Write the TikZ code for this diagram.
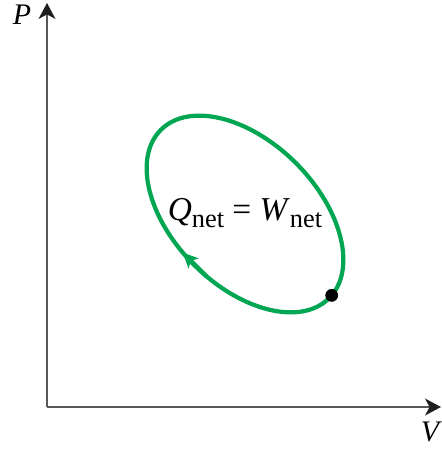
\documentclass[tikz,border=0pt]{standalone}
\usepackage{fontspec}
\setmainfont{Liberation Serif}
\usepackage{xcolor}
\definecolor{cyclegreen}{RGB}{0, 166, 81}
\definecolor{axisgray}{RGB}{88, 88, 88}
\definecolor{tipblack}{RGB}{30, 30, 30}
\usepackage{tikz}
\usetikzlibrary{arrows.meta}
\newcommand{\subnet}{{\fontsize{15}{15}\selectfont\raisebox{-0.28em}{net}}}

\begin{document}
\begin{tikzpicture}[x=0.02cm, y=-0.02cm, >=Stealth]
    \useasboundingbox (0,0) rectangle (441,450);
    \coordinate (O) at (47,407);
    \coordinate (Ptop) at (47,3);
    \coordinate (Vend) at (441,407);
    \draw[line width=1.5pt, axisgray, -{Stealth[length=9pt, width=9.5pt, inset=2.5pt, color=tipblack]}] (O) -- (Ptop);
    \draw[line width=1.5pt, axisgray, -{Stealth[length=9pt, width=9.5pt, inset=2.5pt, color=tipblack]}] (O) -- (Vend);
    \node[font=\fontsize{17}{17}\selectfont\itshape] (Plabel) at (22,15) {P};
    \node[font=\fontsize{17}{17}\selectfont\itshape] (Vlabel) at (430,432) {V};
    \begin{scope}[shift={(245,214)}, rotate=-45]
        \draw[line width=2.4pt, cyclegreen] (0,0) ellipse [x radius=119, y radius=72];
        \coordinate (arrowtail) at ({119*cos(82)}, {72*sin(82)});
        \coordinate (arrowtip) at ({119*cos(98)}, {72*sin(98)});
        \coordinate (state) at ({119*cos(-3)}, {72*sin(-3)});
    \end{scope}
    \draw[line width=2.4pt, cyclegreen, -{Stealth[length=8.5pt, width=8pt, inset=2pt]}] (arrowtail) -- (arrowtip);
    \filldraw[black] (state) circle (6);
    \node[anchor=base, font=\fontsize{19}{19}\selectfont] (qw) at (245,220)
        {\textit{Q}\subnet\ = \textit{W}\subnet};
\end{tikzpicture}
\end{document}
